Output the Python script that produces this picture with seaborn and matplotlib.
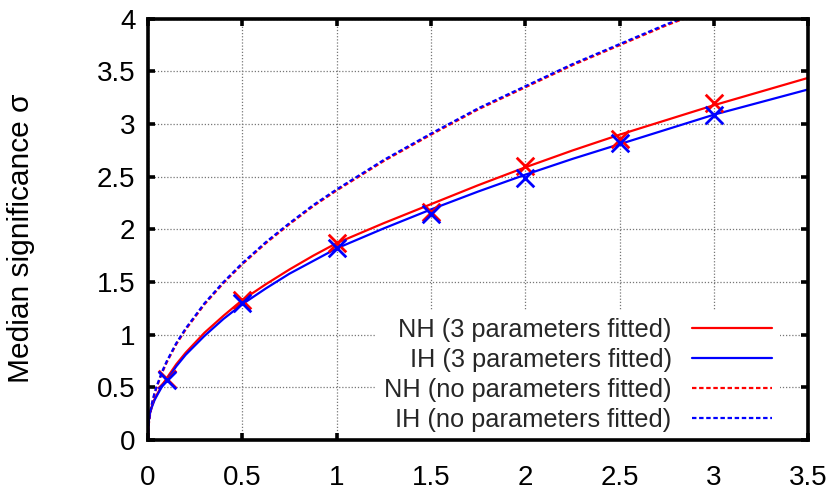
import numpy as np
import pandas as pd
import matplotlib
matplotlib.use("Agg")
import matplotlib.pyplot as plt
import seaborn as sns

# ---- data ----
x_pts = [0.1, 0.5, 1.0, 1.5, 2.0, 2.5, 3.0]
nh_pts = [0.58, 1.33, 1.87, 2.17, 2.60, 2.86, 3.20]
ih_pts = [0.57, 1.30, 1.82, 2.15, 2.49, 2.82, 3.09]

x_fit = [0, 0.002, 0.005, 0.01, 0.02, 0.035, 0.05, 0.075, 0.1, 0.15, 0.2,
         0.3, 0.4, 0.5, 0.625, 0.75, 0.875, 1.0, 1.25, 1.5, 1.75, 2.0,
         2.25, 2.5, 2.75, 3.0, 3.25, 3.5]
nh_fit = [0, 0.12, 0.19, 0.25, 0.32, 0.39, 0.44, 0.52, 0.59, 0.72, 0.83,
          1.02, 1.18, 1.33, 1.48, 1.62, 1.75, 1.87, 2.06, 2.24, 2.42, 2.59,
          2.75, 2.90, 3.04, 3.18, 3.31, 3.44]
ih_fit = [0, 0.12, 0.19, 0.25, 0.31, 0.38, 0.43, 0.51, 0.57, 0.70, 0.81,
          0.99, 1.15, 1.29, 1.44, 1.58, 1.70, 1.82, 2.01, 2.19, 2.36, 2.52,
          2.67, 2.81, 2.95, 3.09, 3.21, 3.33]

x_nofit = [0, 0.002, 0.005, 0.01, 0.02, 0.035, 0.05, 0.075, 0.1, 0.15, 0.2,
           0.3, 0.4, 0.5, 0.625, 0.75, 0.875, 1.0, 1.25, 1.5, 1.75, 2.0,
           2.25, 2.5, 2.75, 3.0]
nh_nofit = [0, 0.10, 0.16, 0.23, 0.33, 0.44, 0.52, 0.64, 0.74, 0.91, 1.05,
            1.29, 1.49, 1.67, 1.87, 2.05, 2.22, 2.37, 2.65, 2.90, 3.14, 3.35,
            3.56, 3.75, 3.94, 4.11]
ih_nofit = [0, 0.11, 0.17, 0.24, 0.34, 0.45, 0.53, 0.65, 0.75, 0.92, 1.06,
            1.30, 1.50, 1.68, 1.88, 2.06, 2.23, 2.38, 2.66, 2.91, 3.15, 3.36,
            3.57, 3.76, 3.95, 4.12]

labels = ["NH (3 parameters fitted)", "IH (3 parameters fitted)",
          "NH (no parameters fitted)", "IH (no parameters fitted)"]
xticks = [0, 0.5, 1, 1.5, 2, 2.5, 3, 3.5]
yticks = [0, 0.5, 1, 1.5, 2, 2.5, 3, 3.5, 4]

sns.set_theme(style="ticks")
plt.rcParams["font.family"] = ["Liberation Sans", "DejaVu Sans"]

fig = plt.figure(figsize=(8.36, 4.95), dpi=100)
ax = fig.add_axes([0.177, 0.111, 0.79, 0.851])

RED = "#ff0000"
BLUE = "#0000ff"
dot = (0, (2.0, 1.2))

df_fit = pd.DataFrame({"x": x_fit, "nh": nh_fit, "ih": ih_fit})
df_nofit = pd.DataFrame({"x": x_nofit, "nh": nh_nofit, "ih": ih_nofit})
df_pts = pd.DataFrame({"x": x_pts, "nh": nh_pts, "ih": ih_pts})

sns.lineplot(data=df_fit, x="x", y="nh", ax=ax, color=RED, lw=1.6,
             label=labels[0], legend=False, zorder=4)
sns.lineplot(data=df_fit, x="x", y="ih", ax=ax, color=BLUE, lw=1.6,
             label=labels[1], legend=False, zorder=4)
sns.lineplot(data=df_nofit, x="x", y="nh", ax=ax, color=RED, lw=1.6,
             linestyle=dot, label=labels[2], legend=False, zorder=4)
sns.lineplot(data=df_nofit, x="x", y="ih", ax=ax, color=BLUE, lw=1.6,
             linestyle=dot, label=labels[3], legend=False, zorder=4)
handles = list(ax.lines[:4])

sns.scatterplot(data=df_pts, x="x", y="nh", ax=ax, marker="x", color=RED,
                s=160, linewidth=2, zorder=5, legend=False)
sns.scatterplot(data=df_pts, x="x", y="ih", ax=ax, marker="x", color=BLUE,
                s=160, linewidth=2, zorder=6, legend=False)

ax.set_xlim(0, 3.5)
ax.set_ylim(0, 4)
ax.set_xticks(xticks)
ax.set_yticks(yticks)
ax.set_xticklabels([f"{t:g}" for t in xticks])
ax.set_yticklabels([f"{t:g}" for t in yticks])
ax.set_xlabel("")
ax.set_ylabel("Median significance σ", fontsize=21.5, color="black")
ax.yaxis.set_label_coords(-0.171, 0.48)

ax.grid(True, color="#777777", linestyle=(0, (1, 1.5)), lw=0.9)
ax.set_axisbelow(True)
for s in ax.spines.values():
    s.set_visible(True)
    s.set_linewidth(2.6)
    s.set_color("black")
    s.set_zorder(10)
ax.tick_params(direction="in", length=5, width=2.6, labelsize=20,
               top=True, right=True, colors="black")
ax.tick_params(axis="x", pad=18)
ax.tick_params(axis="y", pad=9)

leg = ax.legend(handles=handles, labels=labels, loc="lower right",
                bbox_to_anchor=(0.968, -0.017),
                markerfirst=False, frameon=True, fontsize=18.3,
                handlelength=3.15, labelspacing=0.24, borderaxespad=0.3,
                handletextpad=0.8, borderpad=0.3)
leg.get_frame().set_facecolor("white")
leg.get_frame().set_edgecolor("none")
leg.get_frame().set_alpha(1)
leg.set_zorder(3)
leg._legend_box.align = "right"

fig.savefig("out.png", dpi=100)
